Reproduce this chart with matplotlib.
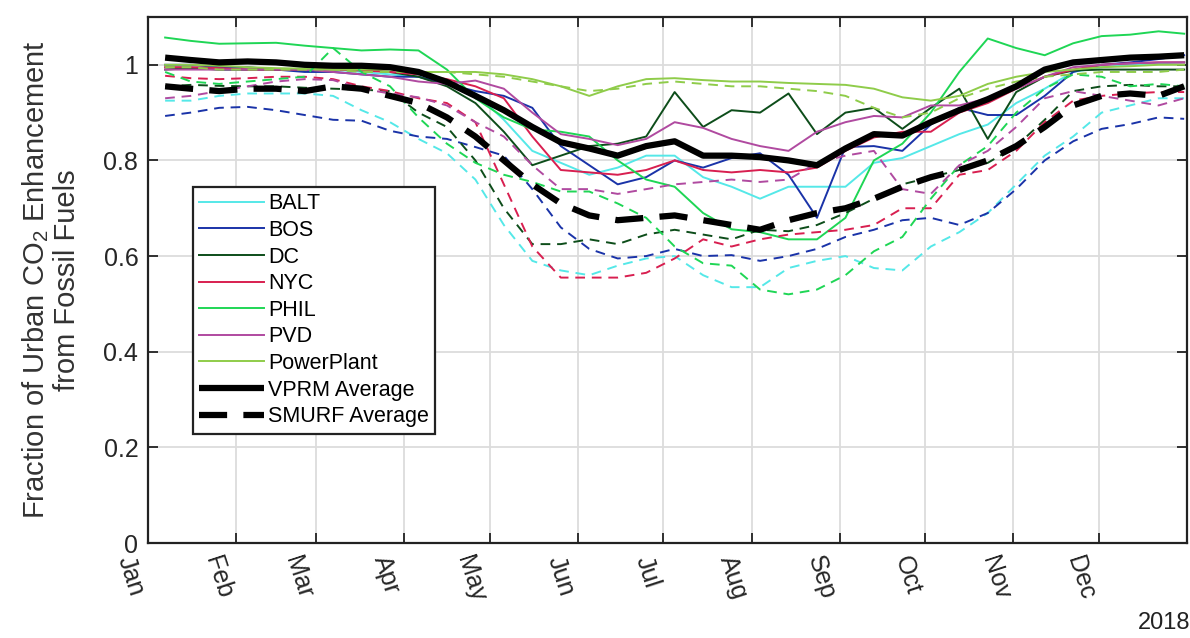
import matplotlib.pyplot as plt
import pandas as pd

plt.rcParams['font.family'] = ['Liberation Sans', 'DejaVu Sans']
plt.rcParams['mathtext.fontset'] = 'custom'
plt.rcParams['mathtext.rm'] = 'Liberation Sans'
plt.rcParams['mathtext.it'] = 'Liberation Sans:italic'

# Data (day of year 2018)
day_of_year = [6, 15, 25, 35, 45, 55, 65, 75, 85, 95, 105, 115, 125, 135, 145, 155, 165, 175, 185,
               195, 205, 215, 225, 235, 245, 255, 265, 275, 285, 295, 305, 315, 325, 335, 345, 355, 364]

cities = ['BALT', 'BOS', 'DC', 'NYC', 'PHIL', 'PVD', 'PowerPlant']
colors = ['#55e8e8', '#1a33a8', '#0d4d1a', '#d81f50', '#1fd655', '#b04aa0', '#8fcc4a']

# VPRM (solid)
balt_vprm = [0.995, 0.995, 0.99, 0.99, 0.99, 0.99, 0.99, 0.985, 0.98, 0.975, 0.96, 0.94, 0.885, 0.82, 0.795,
             0.77, 0.785, 0.81, 0.81, 0.765, 0.745, 0.72, 0.745, 0.745, 0.745, 0.795, 0.805, 0.83, 0.855,
             0.875, 0.92, 0.95, 0.985, 0.995, 1.0, 1.003, 1.005]
bos_vprm = [1.0, 1.0, 0.995, 0.995, 0.99, 0.985, 0.985, 0.98, 0.975, 0.975, 0.96, 0.945, 0.935, 0.91, 0.83,
            0.79, 0.75, 0.765, 0.8, 0.785, 0.805, 0.815, 0.77, 0.68, 0.828, 0.83, 0.82, 0.875, 0.91,
            0.895, 0.895, 0.935, 0.985, 1.0, 1.005, 1.012, 1.02]
dc_vprm = [0.99, 0.993, 0.99, 0.99, 0.99, 0.99, 0.995, 0.99, 0.985, 0.975, 0.955, 0.92, 0.86, 0.79, 0.81,
           0.83, 0.835, 0.85, 0.943, 0.87, 0.905, 0.9, 0.94, 0.855, 0.9, 0.91, 0.866, 0.91, 0.95,
           0.845, 0.943, 0.975, 0.988, 0.99, 0.99, 0.99, 0.99]
nyc_vprm = [0.995, 0.995, 0.993, 0.99, 0.99, 0.99, 0.99, 0.988, 0.985, 0.98, 0.97, 0.955, 0.93, 0.85, 0.78,
            0.775, 0.77, 0.78, 0.8, 0.78, 0.775, 0.78, 0.775, 0.785, 0.82, 0.848, 0.86, 0.86, 0.9,
            0.92, 0.95, 0.975, 0.99, 1.0, 1.003, 1.005, 1.005]
phil_vprm = [1.057, 1.05, 1.044, 1.045, 1.046, 1.04, 1.035, 1.03, 1.032, 1.03, 0.99, 0.93, 0.89, 0.865, 0.86,
             0.85, 0.8, 0.76, 0.745, 0.69, 0.656, 0.65, 0.635, 0.635, 0.68, 0.8, 0.835, 0.9, 0.985,
             1.055, 1.035, 1.02, 1.045, 1.06, 1.063, 1.07, 1.065]
pvd_vprm = [0.99, 0.99, 0.99, 0.99, 0.99, 0.99, 0.985, 0.98, 0.975, 0.965, 0.96, 0.967, 0.95, 0.9, 0.855,
            0.845, 0.832, 0.845, 0.88, 0.868, 0.845, 0.83, 0.82, 0.86, 0.88, 0.893, 0.89, 0.915, 0.915,
            0.93, 0.95, 0.975, 0.995, 1.0, 1.003, 1.005, 1.005]
pp_vprm = [1.0, 1.0, 0.998, 0.995, 0.993, 0.992, 0.99, 0.99, 0.99, 0.985, 0.985, 0.985, 0.98, 0.97, 0.955,
           0.935, 0.955, 0.97, 0.972, 0.968, 0.965, 0.965, 0.962, 0.96, 0.958, 0.95, 0.932, 0.925, 0.935,
           0.96, 0.975, 0.985, 0.99, 0.995, 0.997, 1.0, 1.0]

# SMURF (dashed)
balt_smurf = [0.925, 0.925, 0.935, 0.94, 0.94, 0.94, 0.935, 0.905, 0.88, 0.845, 0.815, 0.76, 0.665, 0.59, 0.57,
              0.56, 0.58, 0.595, 0.6, 0.56, 0.535, 0.535, 0.575, 0.59, 0.6, 0.575, 0.57, 0.62, 0.65,
              0.69, 0.75, 0.81, 0.85, 0.9, 0.915, 0.93, 0.93]
bos_smurf = [0.893, 0.9, 0.91, 0.912, 0.905, 0.895, 0.885, 0.883, 0.862, 0.85, 0.845, 0.828, 0.81, 0.74, 0.66,
             0.615, 0.595, 0.6, 0.615, 0.6, 0.602, 0.59, 0.6, 0.615, 0.64, 0.655, 0.675, 0.68, 0.665,
             0.69, 0.74, 0.8, 0.84, 0.866, 0.876, 0.89, 0.887]
dc_smurf = [0.955, 0.958, 0.956, 0.955, 0.955, 0.952, 0.95, 0.948, 0.945, 0.9, 0.87, 0.8, 0.7, 0.625, 0.625,
            0.635, 0.625, 0.645, 0.655, 0.645, 0.635, 0.655, 0.652, 0.665, 0.69, 0.72, 0.75, 0.765, 0.78,
            0.795, 0.83, 0.885, 0.945, 0.955, 0.958, 0.955, 0.955]
nyc_smurf = [0.977, 0.972, 0.97, 0.972, 0.975, 0.975, 0.97, 0.955, 0.945, 0.93, 0.92, 0.88, 0.75, 0.62, 0.555,
             0.555, 0.555, 0.565, 0.595, 0.635, 0.62, 0.635, 0.645, 0.65, 0.655, 0.665, 0.7, 0.7, 0.77,
             0.78, 0.82, 0.88, 0.925, 0.935, 0.94, 0.943, 0.943]
phil_smurf = [0.985, 0.965, 0.96, 0.965, 0.97, 0.975, 1.035, 0.985, 0.955, 0.89, 0.835, 0.795, 0.77, 0.755, 0.735,
              0.735, 0.71, 0.68, 0.62, 0.585, 0.58, 0.53, 0.52, 0.53, 0.56, 0.61, 0.64, 0.72, 0.79,
              0.83, 0.9, 0.95, 0.98, 0.975, 0.955, 0.96, 0.955]
pvd_smurf = [0.93, 0.935, 0.945, 0.955, 0.965, 0.97, 0.968, 0.95, 0.94, 0.932, 0.915, 0.88, 0.85, 0.79, 0.74,
             0.74, 0.73, 0.74, 0.75, 0.755, 0.76, 0.755, 0.76, 0.795, 0.81, 0.82, 0.74, 0.73, 0.79,
             0.82, 0.87, 0.93, 0.945, 0.935, 0.925, 0.915, 0.93]
pp_smurf = [0.995, 0.995, 0.99, 0.99, 0.99, 0.99, 0.99, 0.985, 0.985, 0.985, 0.985, 0.98, 0.975, 0.965, 0.955,
            0.945, 0.95, 0.96, 0.965, 0.96, 0.955, 0.955, 0.95, 0.945, 0.935, 0.91, 0.89, 0.9, 0.93,
            0.95, 0.965, 0.975, 0.98, 0.985, 0.985, 0.985, 0.99]

vprm_avg = [1.015, 1.01, 1.005, 1.007, 1.005, 1.0, 0.998, 0.998, 0.995, 0.985, 0.964, 0.935, 0.905, 0.87, 0.838,
            0.825, 0.81, 0.83, 0.84, 0.81, 0.81, 0.807, 0.8, 0.79, 0.825, 0.855, 0.852, 0.88, 0.905,
            0.928, 0.955, 0.99, 1.005, 1.01, 1.015, 1.017, 1.02]
smurf_avg = [0.955, 0.95, 0.945, 0.95, 0.95, 0.945, 0.955, 0.95, 0.935, 0.92, 0.89, 0.85, 0.8, 0.75, 0.71,
             0.685, 0.675, 0.68, 0.685, 0.675, 0.665, 0.655, 0.675, 0.69, 0.7, 0.72, 0.745, 0.765, 0.78,
             0.8, 0.83, 0.87, 0.915, 0.935, 0.94, 0.935, 0.955]

vprm_series = [balt_vprm, bos_vprm, dc_vprm, nyc_vprm, phil_vprm, pvd_vprm, pp_vprm]
smurf_series = [balt_smurf, bos_smurf, dc_smurf, nyc_smurf, phil_smurf, pvd_smurf, pp_smurf]

dates = pd.Timestamp('2018-01-01') + pd.to_timedelta(day_of_year, unit='D')
months = pd.date_range('2018-01-01', periods=12, freq='MS')

fig = plt.figure(figsize=(11.9, 6.38), dpi=100)
ax = fig.add_axes([0.1244, 0.1489, 0.8731, 0.8245])

for name, col, vals in zip(cities, colors, vprm_series):
    ax.plot(dates, vals, color=col, lw=1.4, label=name)
for col, vals in zip(colors, smurf_series):
    ax.plot(dates, vals, color=col, lw=1.4, dashes=(5, 3.5))

ax.plot(dates, vprm_avg, color='black', lw=4.5, label='VPRM Average', solid_capstyle='butt')
ax.plot(dates, smurf_avg, color='black', lw=4.5, dashes=(4.5, 2.6), label='SMURF Average')

# Axes styling (MATLAB look)
ax.set_xlim(pd.Timestamp('2018-01-01'), pd.Timestamp('2019-01-01'))
ax.set_ylim(0, 1.1)
ax.set_yticks([0, 0.2, 0.4, 0.6, 0.8, 1.0])
ax.set_yticklabels(['0', '0.2', '0.4', '0.6', '0.8', '1'], fontsize=18, color='#262626')
ax.set_xticks(months)
ax.set_xticklabels([m.strftime('%b') for m in months], fontsize=18, rotation=-72,
                   ha='right', va='top', color='#262626')
ax.tick_params(axis='x', pad=7)
ax.tick_params(axis='y', pad=7)
ax.tick_params(direction='in', length=7, width=1.3, top=True, right=True, color='#222222')
ax.grid(True, color='#dcdcdc', lw=1.3)
ax.set_axisbelow(True)
for sp in ax.spines.values():
    sp.set_linewidth(1.6)
    sp.set_color('#222222')

ax.set_ylabel('Fraction of Urban CO$_2$ Enhancement\nfrom Fossil Fuels', fontsize=21,
              color='#333333', labelpad=16, linespacing=1.1)

leg = ax.legend(loc='upper left', bbox_to_anchor=(0.043, 0.677), borderaxespad=0,
                fontsize=15.5, handlelength=3.0, handletextpad=0.2, labelspacing=0.26,
                borderpad=0.3, fancybox=False, framealpha=1, edgecolor='#222222')
leg.get_frame().set_linewidth(1.6)

fig.text(0.978, 0.006, '2018', fontsize=17, ha='center', va='bottom', color='#222222')

plt.savefig('out.png', dpi=100)
